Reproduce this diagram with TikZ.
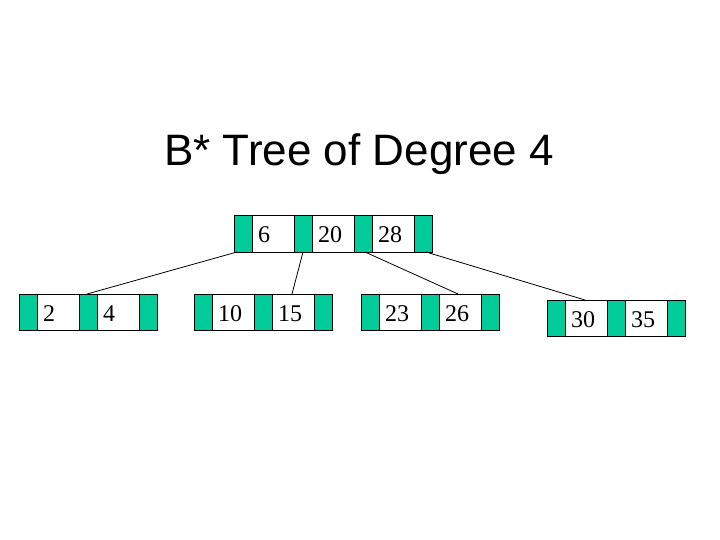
\documentclass[tikz,border=0pt]{standalone}
\usepackage{fontspec}
\setmainfont{Liberation Serif}
\newfontfamily\titlefont{Liberation Sans}
\definecolor{ptrgreen}{RGB}{0,204,153}
\begin{document}
\begin{tikzpicture}[x=1pt,y=-1pt,
  ptr/.style={draw=black,line width=0.8pt,fill=ptrgreen,minimum width=18pt,minimum height=37pt,inner sep=0pt,outer sep=0pt},
  key/.style={draw=black,line width=0.8pt,fill=white,minimum height=37pt,inner ysep=0pt,inner xsep=6pt,text width=30pt,align=left,outer sep=0pt,
    font=\fontsize{24}{26}\selectfont,text height=19pt,text depth=0pt},
  leafptr/.style={ptr,minimum height=36pt},
  leafkey/.style={key,minimum height=36pt},
  link/.style={draw=black,line width=0.8pt}]
\useasboundingbox (0,0) rectangle (720,540);
\node[font=\titlefont\fontsize{44}{50}\selectfont,anchor=base] (title) at (359,166) {B* Tree of Degree 4};
% root
\node[ptr] (rg1) at (243,233.5) {};
\node[key] (rk1) at (273,233.5) {6};
\node[ptr] (rg2) at (303,233.5) {};
\node[key] (rk2) at (333,233.5) {20};
\node[ptr] (rg3) at (363,233.5) {};
\node[key] (rk3) at (393,233.5) {28};
\node[ptr] (rg4) at (423,233.5) {};
% leaf 1
\node[leafptr] (l1g1) at (28,312) {};
\node[leafkey] (l1k1) at (58,312) {2};
\node[leafptr] (l1g2) at (88,312) {};
\node[leafkey] (l1k2) at (118,312) {4};
\node[leafptr] (l1g3) at (148,312) {};
% leaf 2
\node[leafptr] (l2g1) at (203,312) {};
\node[leafkey] (l2k1) at (233,312) {10};
\node[leafptr] (l2g2) at (263,312) {};
\node[leafkey] (l2k2) at (293,312) {15};
\node[leafptr] (l2g3) at (323,312) {};
% leaf 3
\node[leafptr] (l3g1) at (370,312) {};
\node[leafkey] (l3k1) at (400,312) {23};
\node[leafptr] (l3g2) at (430,312) {};
\node[leafkey] (l3k2) at (460,312) {26};
\node[leafptr] (l3g3) at (490,312) {};
% leaf 4
\node[leafptr] (l4g1) at (556,318) {};
\node[leafkey] (l4k1) at (586,318) {30};
\node[leafptr] (l4g2) at (616,318) {};
\node[leafkey] (l4k2) at (646,318) {35};
\node[leafptr] (l4g3) at (676,318) {};
% connectors
\draw[link] ([xshift=-6pt]rg1.south) -- ([xshift=-1pt]l1g2.north);
\draw[link] (rg2.south) -- ([xshift=-1pt]l2k2.north);
\draw[link] ([xshift=2pt]rg3.south) -- ([xshift=-2pt]l3k2.north);
\draw[link] ([xshift=3pt]rg4.south) -- ([xshift=-1pt]l4k1.north);
\end{tikzpicture}
\end{document}
